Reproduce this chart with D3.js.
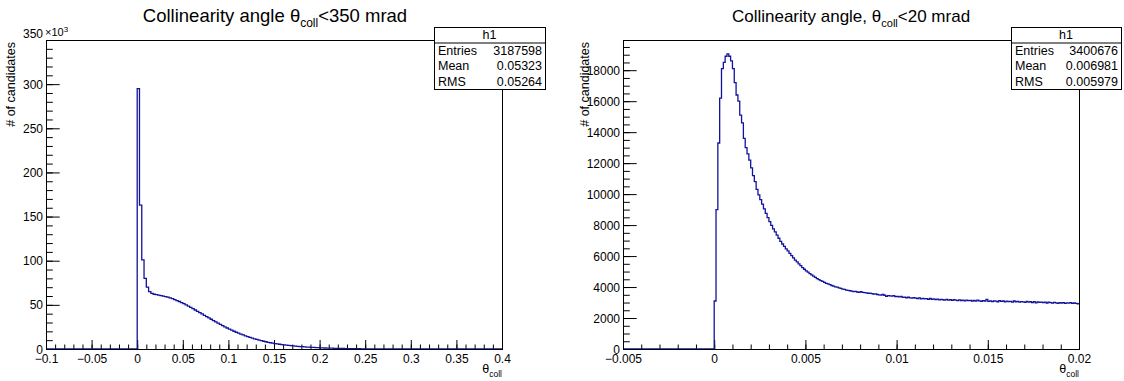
<!DOCTYPE html>
<html>
<head>
<meta charset="utf-8">
<script src="https://cdn.jsdelivr.net/npm/d3@7"></script>
<style>
  body { margin: 0; background: #fff; }
  svg { display: block; font-family: "Liberation Sans", Arial, sans-serif; }
</style>
</head>
<body>
<svg id="chart" width="1124" height="381"></svg>
<script>
// ---- left histogram: theta_coll < 350 mrad, counts in thousands, bins of 0.0025 starting at 0
const leftXDomain = [-0.1, 0.4];
const leftYDomain = [0, 350];
const leftBinStart = 0;
const leftBinWidth = 0.0025;
const leftCountsK = [
  295, 163, 101, 80, 70, 65, 63, 62, 61.5, 61,
  60.5, 60, 59.4, 58.7, 57.9, 57, 56, 54.9, 53.8, 52.6,
  51.3, 50, 48.6, 47.2, 45.7, 44.2, 42.7, 41.2, 39.7, 38.2,
  36.7, 35.2, 33.7, 32.2, 30.7, 29.3, 27.9, 26.5, 25.1, 23.8,
  22.5, 21.3, 20.1, 19, 17.9, 16.9, 15.9, 14.9, 14, 13.1,
  12.3, 11.5, 10.8, 10.1, 9.4, 8.8, 8.2, 7.6, 7.1, 6.6,
  6.2, 5.8, 5.4, 5.0, 4.7, 4.4, 4.1, 3.8, 3.5, 3.25,
  3.0, 2.8, 2.6, 2.4, 2.2, 2.05, 1.9, 1.75, 1.6, 1.48,
  1.36, 1.25, 1.15, 1.05, 0.96, 0.88, 0.8, 0.73, 0.66, 0.6,
  0.55, 0.5, 0.45, 0.41, 0.37, 0.34, 0.31, 0.28, 0.25, 0.23,
  0.21, 0.19, 0.17, 0.15, 0.14, 0.12, 0.11, 0.1, 0.09, 0.08,
  0.07, 0.065, 0.06, 0.05, 0.045, 0.04, 0.036, 0.032, 0.028, 0.025,
  0.022, 0.02, 0.018, 0.016, 0.014, 0.012, 0.011, 0.01, 0.009, 0.008,
  0.007, 0.006, 0.006, 0.005, 0.005, 0.004, 0.004, 0.003, 0.003, 0.003,
  0.002, 0.002, 0.002, 0.002, 0.001, 0.001, 0.001, 0.001, 0.001, 0.001,
  0.001, 0.001, 0, 0.001, 0, 0, 0.001, 0, 0, 0
];
const leftXTicks = [-0.1, -0.05, 0, 0.05, 0.1, 0.15, 0.2, 0.25, 0.3, 0.35, 0.4];
const leftXLabels = ["\u22120.1", "\u22120.05", "0", "0.05", "0.1", "0.15", "0.2", "0.25", "0.3", "0.35", "0.4"];
const leftYTicks = [0, 50, 100, 150, 200, 250, 300, 350];
const leftStats = [["Entries", "3187598"], ["Mean", "0.05323"], ["RMS", "0.05264"]];

// ---- right histogram: theta_coll < 20 mrad, bins of 0.0001 starting at 0
const rightXDomain = [-0.005, 0.02];
const rightYDomain = [0, 19950];
const rightBinStart = 0;
const rightBinWidth = 0.0001;
const rightCounts = [
  3100, 9000, 13300, 16200, 18100, 18500, 18900, 19050, 18900, 18600,
  18100, 17200, 16400, 16000, 15100, 14600, 13600, 13000, 12600, 12200,
  11700, 11200, 10800, 10300, 9950, 9650, 9350, 9050, 8750, 8480,
  8220, 7980, 7760, 7560, 7350, 7150, 6950, 6780, 6620, 6470,
  6330, 6180, 6030, 5880, 5740, 5620, 5500, 5380, 5260, 5150,
  5050, 4960, 4870, 4780, 4700, 4630, 4550, 4480, 4420, 4360,
  4300, 4240, 4210, 4150, 4100, 4060, 4010, 3990, 3940, 3910,
  3870, 3850, 3800, 3790, 3760, 3740, 3700, 3720, 3680, 3650,
  3700, 3660, 3640, 3620, 3600, 3610, 3570, 3550, 3560, 3520,
  3500, 3480, 3520, 3470, 3400, 3450, 3430, 3410, 3440, 3380,
  3390, 3360, 3400, 3330, 3350, 3310, 3340, 3300, 3280, 3320,
  3290, 3260, 3300, 3240, 3270, 3230, 3250, 3210, 3260, 3200,
  3230, 3190, 3220, 3170, 3210, 3180, 3150, 3200, 3160, 3190,
  3140, 3180, 3150, 3120, 3170, 3130, 3160, 3110, 3150, 3120,
  3140, 3100, 3130, 3090, 3150, 3110, 3080, 3120, 3100, 3200,
  3080, 3110, 3060, 3100, 3090, 3050, 3120, 3070, 3100, 3040,
  3090, 3060, 3080, 3030, 3100, 3050, 3070, 3020, 3060, 3040,
  3010, 3070, 3030, 3050, 3000, 3060, 2980, 3040, 3010, 3030,
  2990, 3020, 2970, 3030, 3000, 2960, 3010, 2980, 2950, 3000,
  2970, 2990, 2940, 2980, 2960, 2990, 2950, 2970, 2940, 2920
];
const rightXTicks = [-0.005, 0, 0.005, 0.01, 0.015, 0.02];
const rightXLabels = ["\u22120.005", "0", "0.005", "0.01", "0.015", "0.02"];
const rightYTicks = [0, 2000, 4000, 6000, 8000, 10000, 12000, 14000, 16000, 18000];
const rightStats = [["Entries", "3400676"], ["Mean", "0.006981"], ["RMS", "0.005979"]];

const svg = d3.select("#chart");
const lineColor = "#12129c";

function drawPanel(p) {
  const x = d3.scaleLinear().domain(p.xDomain).range([p.left, p.right]);
  const y = d3.scaleLinear().domain(p.yDomain).range([p.bottom, p.top]);
  const g = svg.append("g");

  // minor + major ticks, ROOT style (pointing into the frame)
  const xAxisG = g.append("g").attr("transform", `translate(0,${p.bottom})`);
  xAxisG.append("g")
    .call(d3.axisBottom(x).tickValues(p.xMinor).tickSizeInner(-4.5).tickSizeOuter(0).tickFormat(""))
    .call(a => a.select(".domain").remove());
  xAxisG.append("g")
    .call(d3.axisBottom(x).tickValues(p.xTicks).tickSizeInner(-9).tickSizeOuter(0).tickPadding(5)
      .tickFormat((d, i) => p.xLabels[i]))
    .call(a => a.select(".domain").remove())
    .selectAll("text").attr("font-size", 12).attr("font-family", "Liberation Sans, Arial, sans-serif")
    .attr("fill", "#000");

  const yAxisG = g.append("g").attr("transform", `translate(${p.left},0)`);
  yAxisG.append("g")
    .call(d3.axisLeft(y).tickValues(p.yMinor).tickSizeInner(-6.8).tickSizeOuter(0).tickFormat(""))
    .call(a => a.select(".domain").remove());
  yAxisG.append("g")
    .call(d3.axisLeft(y).tickValues(p.yTicks).tickSizeInner(-13.7).tickSizeOuter(0).tickPadding(3)
      .tickFormat(d3.format("d")))
    .call(a => a.select(".domain").remove())
    .selectAll("text").attr("font-size", 12).attr("font-family", "Liberation Sans, Arial, sans-serif")
    .attr("fill", "#000")
    .attr("dy", d => d === p.yDomain[1] ? "-0.25em" : "0.34em");

  // histogram outline
  const pts = [[p.xDomain[0], 0], [p.binStart, 0]];
  p.counts.forEach((c, i) => {
    const x0 = p.binStart + i * p.binWidth;
    pts.push([x0, c], [x0 + p.binWidth, c]);
  });
  const line = d3.line().x(d => x(Math.min(d[0], p.xDomain[1]))).y(d => y(d[1]));
  g.append("path")
    .attr("d", line(pts))
    .attr("fill", "none")
    .attr("stroke", lineColor)
    .attr("stroke-width", 1.3);

  // frame
  g.append("rect")
    .attr("x", p.left + 0.5).attr("y", p.top + 0.5)
    .attr("width", p.right - p.left).attr("height", p.bottom - p.top)
    .attr("fill", "none").attr("stroke", "#000").attr("stroke-width", 1);

  // title
  const t = g.append("text")
    .attr("x", p.titleX).attr("y", p.titleY)
    .attr("text-anchor", "middle")
    .attr("font-size", p.titleSize);
  t.append("tspan").text(p.titlePre + "\u03b8");
  t.append("tspan").attr("dy", p.titleSize * 0.28).attr("font-size", p.titleSize * 0.65).text("coll");
  t.append("tspan").attr("dy", -p.titleSize * 0.28).text(p.titlePost);

  // axis titles
  g.append("text")
    .attr("transform", `translate(${p.left - p.yTitleOff},${p.top + 2}) rotate(-90)`)
    .attr("text-anchor", "end")
    .attr("font-size", 12.5)
    .text("# of candidates");

  const xt = g.append("text")
    .attr("x", p.right).attr("y", p.bottom + 24)
    .attr("text-anchor", "end")
    .attr("font-size", 12.5);
  xt.append("tspan").text("\u03b8");
  xt.append("tspan").attr("dy", 4).attr("font-size", 8.5).text("coll");

  if (p.exponent) {
    const e = g.append("text").attr("x", p.left - 1).attr("y", p.top - 4).attr("font-size", 11);
    e.append("tspan").text("\u00d710");
    e.append("tspan").attr("dy", -4).attr("font-size", 8).text("3");
  }

  // stats box
  const sb = g.append("g");
  const rowH = (p.box.bottom - p.box.top) / 4;
  sb.append("rect")
    .attr("x", p.box.left + 0.5).attr("y", p.box.top + 0.5)
    .attr("width", p.box.right - p.box.left).attr("height", p.box.bottom - p.box.top)
    .attr("fill", "#fff").attr("stroke", "#000");
  sb.append("line")
    .attr("x1", p.box.left).attr("x2", p.box.right)
    .attr("y1", p.box.top + rowH + 0.5).attr("y2", p.box.top + rowH + 0.5)
    .attr("stroke", "#000");
  sb.append("text")
    .attr("x", (p.box.left + p.box.right) / 2).attr("y", p.box.top + rowH / 2 + 4.5)
    .attr("text-anchor", "middle").attr("font-size", 12.5).text("h1");
  p.stats.forEach((s, i) => {
    const yy = p.box.top + rowH * (i + 1.5) + 4.5;
    sb.append("text").attr("x", p.box.left + 4).attr("y", yy).attr("font-size", 12.5).text(s[0]);
    sb.append("text").attr("x", p.box.right - 3).attr("y", yy).attr("text-anchor", "end")
      .attr("font-size", 12.5).text(s[1]);
  });
}

drawPanel({
  left: 46, right: 502, top: 40, bottom: 349,
  xDomain: leftXDomain, yDomain: leftYDomain,
  binStart: leftBinStart, binWidth: leftBinWidth, counts: leftCountsK,
  xTicks: leftXTicks, xLabels: leftXLabels, xMinor: d3.range(-0.1, 0.4001, 0.01),
  yTicks: leftYTicks, yMinor: d3.range(0, 350.1, 10),
  titlePre: "Collinearity angle ", titlePost: "<350 mrad",
  titleX: 275, titleY: 22, titleSize: 18.5,
  yTitleOff: 31, exponent: true,
  box: { left: 434, right: 545, top: 27, bottom: 89 },
  stats: leftStats
});

drawPanel({
  left: 623, right: 1079, top: 40, bottom: 349,
  xDomain: rightXDomain, yDomain: rightYDomain,
  binStart: rightBinStart, binWidth: rightBinWidth, counts: rightCounts,
  xTicks: rightXTicks, xLabels: rightXLabels, xMinor: d3.range(-0.005, 0.02001, 0.001),
  yTicks: rightYTicks, yMinor: d3.range(0, 19950, 500),
  titlePre: "Collinearity angle, ", titlePost: "<20 mrad",
  titleX: 851, titleY: 22, titleSize: 17,
  yTitleOff: 34, exponent: false,
  box: { left: 1011, right: 1121, top: 27, bottom: 89 },
  stats: rightStats
});
</script>
</body>
</html>
